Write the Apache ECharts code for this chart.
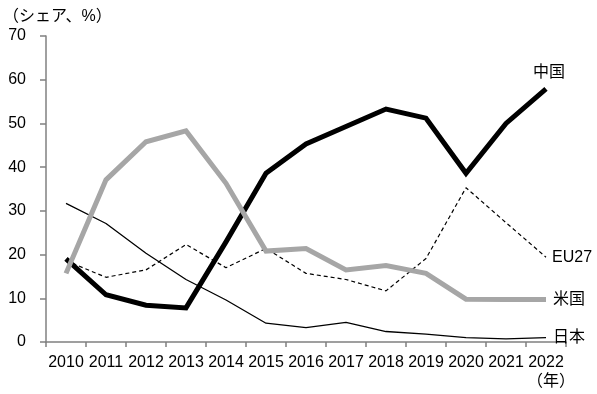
<!DOCTYPE html>
<html>
<head>
<meta charset="utf-8">
<script src="https://cdn.jsdelivr.net/npm/echarts@6/dist/echarts.min.js"></script>
<style>html,body{margin:0;padding:0;background:#fff;}#c{width:597px;height:394px;}</style>
</head>
<body>
<div id="c"></div>
<script>
const years = ['2010','2011','2012','2013','2014','2015','2016','2017','2018','2019','2020','2021','2022'];
const china = [19.0, 10.8, 8.4, 7.8, 22.9, 38.6, 45.3, 49.3, 53.3, 51.2, 38.6, 50.0, 57.9];
const usa = [15.7, 37.1, 45.8, 48.3, 36.3, 20.8, 21.4, 16.5, 17.5, 15.7, 9.8, 9.7, 9.7];
const eu27 = [18.6, 14.8, 16.5, 22.3, 17.0, 21.4, 15.7, 14.3, 11.7, 19.1, 35.3, 27.3, 19.4];
const japan = [31.7, 27.1, 20.3, 14.3, 9.6, 4.3, 3.3, 4.5, 2.4, 1.8, 1.0, 0.7, 1.0];
const yTicks = [0, 10, 20, 30, 40, 50, 60, 70];

const FONT = '"Liberation Sans", Arial, "Noto Sans CJK JP", sans-serif';
const chart = echarts.init(document.getElementById('c'), null, {renderer: 'canvas'});

function endLbl(text, dist, off) {
  return {
    show: true, formatter: text, position: 'right', distance: dist, offset: off || [0, 0],
    color: '#000', fontSize: 16, fontFamily: FONT
  };
}

chart.setOption({
  animation: false,
  backgroundColor: '#fff',
  textStyle: {fontFamily: FONT},
  title: {
    text: '（シェア、%）', left: -2, top: 4,
    textStyle: {fontSize: 16, fontWeight: 'normal', color: '#000', fontFamily: FONT}
  },
  graphic: [{
    type: 'text', right: 22, bottom: 4,
    style: {text: '（年）', fontSize: 16, fill: '#000', fontFamily: FONT}
  }],
  grid: {left: 46, right: 31, top: 36, bottom: 52, containLabel: false},
  xAxis: {
    type: 'category', data: years, boundaryGap: true,
    axisLine: {lineStyle: {color: '#808080', width: 1.5}},
    axisTick: {show: true, alignWithLabel: false, length: 5, lineStyle: {color: '#808080', width: 1.5}},
    axisLabel: {color: '#000', fontSize: 16, margin: 13, interval: 0, fontFamily: FONT}
  },
  yAxis: {
    type: 'value', min: 0, max: 70, interval: 10,
    axisLine: {show: true, lineStyle: {color: '#808080', width: 1.5}},
    axisTick: {show: true, length: 6, lineStyle: {color: '#808080', width: 1.5}},
    splitLine: {show: false},
    axisLabel: {color: '#000', fontSize: 16, margin: 20, fontFamily: FONT,
      formatter: v => yTicks.includes(v) ? String(v) : ''}
  },
  series: [
    {
      name: '日本', type: 'line', data: japan, symbol: 'none',
      lineStyle: {color: '#000', width: 1.3},
      endLabel: endLbl('日本', 7)
    },
    {
      name: 'EU27', type: 'line', data: eu27, symbol: 'none',
      lineStyle: {color: '#000', width: 1.2, type: [4, 3]},
      endLabel: endLbl('EU27', 6)
    },
    {
      name: '中国', type: 'line', data: china, symbol: 'none',
      lineStyle: {color: '#000', width: 5, cap: 'butt', join: 'miter'},
      endLabel: endLbl('中国', 0, [-13, -16])
    },
    {
      name: '米国', type: 'line', data: usa, symbol: 'none',
      lineStyle: {color: '#a6a6a6', width: 5, cap: 'butt', join: 'miter'},
      endLabel: endLbl('米国', 7)
    }
  ]
});
</script>
</body>
</html>
